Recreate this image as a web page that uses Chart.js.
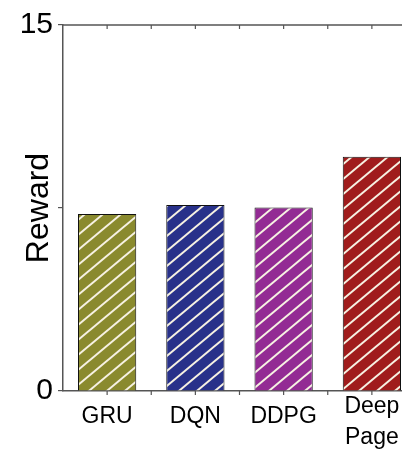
<!DOCTYPE html>
<html>
<head>
<meta charset="utf-8">
<script src="https://cdn.jsdelivr.net/npm/chart.js@4/dist/chart.umd.min.js"></script>
<style>
  html, body { margin: 0; padding: 0; overflow: hidden; background: #fff; }
  #wrap { width: 420px; height: 456px; position: relative; }
</style>
</head>
<body>
<div id="wrap"><canvas id="rewardChart"></canvas></div>
<script>
// categories and values
var methods = ['GRU', 'DQN', 'DDPG', ['Deep', 'Page']];
var rewards = [7.25, 7.62, 7.52, 9.6];
var barColors = ['#8a8a2e', '#28318a', '#932b94', '#a01c1c'];
var yTicks = [0, 7.5, 15];
var yLabels = { 0: '0', 15: '15' };

var FONT = "'Liberation Sans', Arial, sans-serif";
var AXIS = '#555';

// white diagonal hatch over a solid fill
function hatch(color) {
    var w = 18, h = 15;
    var c = document.createElement('canvas');
    c.width = w; c.height = h;
    var g = c.getContext('2d');
    g.fillStyle = color;
    g.fillRect(0, 0, w, h);
    g.strokeStyle = '#f6f1e2';
    g.lineWidth = 2;
    [-w, 0, w].forEach(function (dx) {
        g.beginPath();
        g.moveTo(dx - w, 2 * h);
        g.lineTo(dx + 2 * w, -h);
        g.stroke();
    });
    return g.createPattern(c, 'repeat');
}

// top frame line, tick marks on both x edges and the category labels
var framePlugin = {
    id: 'frame',
    afterDraw: function (chart) {
        var ctx = chart.ctx, a = chart.chartArea, x = chart.scales.x;
        ctx.save();
        ctx.strokeStyle = AXIS;
        ctx.lineWidth = 1.5;
        ctx.beginPath();
        ctx.moveTo(a.left, a.top);
        ctx.lineTo(a.right + 10, a.top);
        ctx.stroke();
        var step = x.getPixelForValue(1) - x.getPixelForValue(0);
        ctx.lineWidth = 1.2;
        for (var i = 0; i < methods.length; i++) {
            var cx = x.getPixelForValue(i);
            [cx, cx + step / 2].forEach(function (px) {
                ctx.beginPath();
                ctx.moveTo(px, a.top);
                ctx.lineTo(px, a.top + 4);
                ctx.moveTo(px, a.bottom);
                ctx.lineTo(px, a.bottom + 4);
                ctx.stroke();
            });
        }
        ctx.fillStyle = '#000';
        ctx.font = '23px ' + FONT;
        ctx.textAlign = 'center';
        ctx.textBaseline = 'middle';
        methods.forEach(function (m, i) {
            var lines = Array.isArray(m) ? m : [m];
            var y0 = a.bottom + 26 - (lines.length - 1) * 10;
            lines.forEach(function (t, j) {
                ctx.fillText(t, x.getPixelForValue(i), y0 + j * 31);
            });
        });
        ctx.restore();
    }
};

new Chart(document.getElementById('rewardChart'), {
    type: 'bar',
    data: {
        labels: methods,
        datasets: [{
            data: rewards,
            backgroundColor: barColors.map(hatch),
            borderColor: '#111',
            borderWidth: 1,
            categoryPercentage: 1,
            barPercentage: 0.66
        }]
    },
    options: {
        responsive: true,
        maintainAspectRatio: false,
        animation: false,
        layout: { padding: { top: 25, right: 4, bottom: 0, left: 0 } },
        scales: {
            x: {
                offset: true,
                grid: { display: false },
                border: { display: true, color: AXIS, width: 1.5 },
                ticks: { display: false },
                afterFit: function (s) { s.height = 65; }
            },
            y: {
                min: 0,
                max: 15,
                afterBuildTicks: function (s) { s.ticks = yTicks.map(function (v) { return { value: v }; }); },
                afterFit: function (s) { s.width = 63; },
                grid: { drawOnChartArea: false, drawTicks: true, tickLength: 5, color: AXIS, lineWidth: 1.2 },
                border: { display: true, color: AXIS, width: 1.5 },
                ticks: {
                    padding: 5,
                    color: '#000',
                    font: { family: FONT, size: 30 },
                    callback: function (v) { return yLabels[v] || ''; }
                },
                title: {
                    display: true,
                    text: 'Reward',
                    color: '#000',
                    font: { family: FONT, size: 32 },
                    padding: { top: 20, bottom: 0 }
                }
            }
        },
        plugins: {
            legend: { display: false },
            tooltip: { enabled: false }
        }
    },
    plugins: [framePlugin]
});
</script>
</body>
</html>
